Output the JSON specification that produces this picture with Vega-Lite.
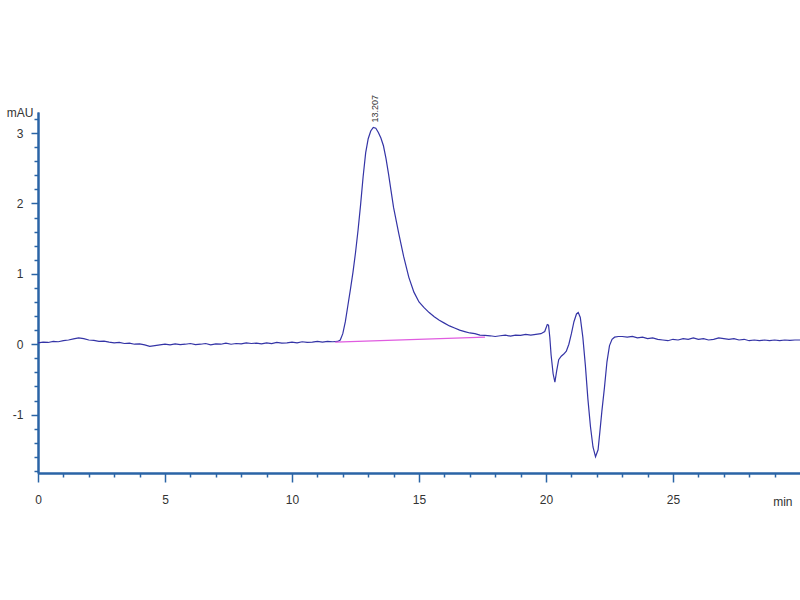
{
  "$schema": "https://vega.github.io/schema/vega-lite/v6.json",
  "width": 762,
  "height": 361,
  "autosize": {"type": "none"},
  "padding": {"left": 38, "top": 112, "right": 0, "bottom": 127},
  "background": "white",
  "config": {
    "view": {"stroke": null},
    "font": "Liberation Sans",
    "axis": {
      "grid": false,
      "domainColor": "#2a64a6",
      "domainWidth": 2,
      "tickColor": "#2a64a6",
      "tickWidth": 1.5,
      "labelColor": "#333333",
      "labelFont": "Liberation Sans",
      "labelFontSize": 12,
      "titleColor": "#333333",
      "titleFont": "Liberation Sans",
      "titleFontSize": 12,
      "titleFontWeight": "normal"
    }
  },
  "datasets": {
    "trace": [
      {"t": 0.0, "v": 0.02}, {"t": 0.2, "v": 0.03}, {"t": 0.4, "v": 0.025}, {"t": 0.6, "v": 0.04}, {"t": 0.8, "v": 0.035},
      {"t": 1.0, "v": 0.05}, {"t": 1.2, "v": 0.06}, {"t": 1.4, "v": 0.075}, {"t": 1.6, "v": 0.09}, {"t": 1.8, "v": 0.08},
      {"t": 2.0, "v": 0.06}, {"t": 2.2, "v": 0.055}, {"t": 2.4, "v": 0.04}, {"t": 2.6, "v": 0.045}, {"t": 2.8, "v": 0.03},
      {"t": 3.0, "v": 0.02}, {"t": 3.2, "v": 0.025}, {"t": 3.4, "v": 0.01}, {"t": 3.6, "v": 0.015}, {"t": 3.8, "v": 0.0},
      {"t": 4.0, "v": 0.005}, {"t": 4.2, "v": -0.01}, {"t": 4.4, "v": -0.03}, {"t": 4.6, "v": -0.02}, {"t": 4.8, "v": -0.01},
      {"t": 5.0, "v": 0.0}, {"t": 5.2, "v": -0.01}, {"t": 5.4, "v": 0.005}, {"t": 5.6, "v": -0.005}, {"t": 5.8, "v": 0.0},
      {"t": 6.0, "v": 0.01}, {"t": 6.2, "v": -0.005}, {"t": 6.4, "v": 0.0}, {"t": 6.6, "v": 0.01}, {"t": 6.8, "v": -0.01},
      {"t": 7.0, "v": 0.005}, {"t": 7.2, "v": 0.0}, {"t": 7.4, "v": 0.015}, {"t": 7.6, "v": 0.0}, {"t": 7.8, "v": 0.01},
      {"t": 8.0, "v": 0.005}, {"t": 8.2, "v": 0.02}, {"t": 8.4, "v": 0.01}, {"t": 8.6, "v": 0.015}, {"t": 8.8, "v": 0.005},
      {"t": 9.0, "v": 0.02}, {"t": 9.2, "v": 0.01}, {"t": 9.4, "v": 0.025}, {"t": 9.6, "v": 0.015}, {"t": 9.8, "v": 0.02},
      {"t": 10.0, "v": 0.03}, {"t": 10.2, "v": 0.02}, {"t": 10.4, "v": 0.035}, {"t": 10.6, "v": 0.025}, {"t": 10.8, "v": 0.03},
      {"t": 11.0, "v": 0.04}, {"t": 11.2, "v": 0.03}, {"t": 11.4, "v": 0.04}, {"t": 11.6, "v": 0.035}, {"t": 11.8, "v": 0.04},
      {"t": 11.9, "v": 0.06}, {"t": 12.0, "v": 0.15}, {"t": 12.1, "v": 0.32}, {"t": 12.2, "v": 0.55}, {"t": 12.3, "v": 0.78},
      {"t": 12.4, "v": 1.02}, {"t": 12.5, "v": 1.3}, {"t": 12.6, "v": 1.62}, {"t": 12.7, "v": 1.98}, {"t": 12.8, "v": 2.38},
      {"t": 12.9, "v": 2.72}, {"t": 13.0, "v": 2.92}, {"t": 13.1, "v": 3.03}, {"t": 13.2, "v": 3.08}, {"t": 13.3, "v": 3.07},
      {"t": 13.4, "v": 3.01}, {"t": 13.5, "v": 2.93}, {"t": 13.6, "v": 2.82}, {"t": 13.7, "v": 2.64}, {"t": 13.8, "v": 2.42},
      {"t": 13.9, "v": 2.18}, {"t": 14.0, "v": 1.94}, {"t": 14.2, "v": 1.58}, {"t": 14.4, "v": 1.24}, {"t": 14.6, "v": 0.95},
      {"t": 14.8, "v": 0.74}, {"t": 15.0, "v": 0.6}, {"t": 15.2, "v": 0.52}, {"t": 15.4, "v": 0.45}, {"t": 15.6, "v": 0.39},
      {"t": 15.8, "v": 0.34}, {"t": 16.0, "v": 0.3}, {"t": 16.2, "v": 0.26}, {"t": 16.4, "v": 0.23}, {"t": 16.6, "v": 0.2},
      {"t": 16.8, "v": 0.18}, {"t": 17.0, "v": 0.16}, {"t": 17.2, "v": 0.15}, {"t": 17.4, "v": 0.13}, {"t": 17.6, "v": 0.125},
      {"t": 17.8, "v": 0.12}, {"t": 18.0, "v": 0.11}, {"t": 18.2, "v": 0.12}, {"t": 18.4, "v": 0.13}, {"t": 18.6, "v": 0.115},
      {"t": 18.8, "v": 0.13}, {"t": 19.0, "v": 0.125}, {"t": 19.2, "v": 0.14}, {"t": 19.4, "v": 0.13}, {"t": 19.6, "v": 0.14},
      {"t": 19.8, "v": 0.15}, {"t": 19.95, "v": 0.18}, {"t": 20.05, "v": 0.28}, {"t": 20.1, "v": 0.27}, {"t": 20.15, "v": 0.1},
      {"t": 20.2, "v": -0.15}, {"t": 20.28, "v": -0.42}, {"t": 20.35, "v": -0.54}, {"t": 20.42, "v": -0.38}, {"t": 20.5, "v": -0.22},
      {"t": 20.6, "v": -0.17}, {"t": 20.7, "v": -0.14}, {"t": 20.8, "v": -0.1}, {"t": 20.9, "v": 0.0}, {"t": 21.0, "v": 0.15},
      {"t": 21.1, "v": 0.32}, {"t": 21.2, "v": 0.43}, {"t": 21.27, "v": 0.45}, {"t": 21.35, "v": 0.38}, {"t": 21.45, "v": 0.1},
      {"t": 21.55, "v": -0.3}, {"t": 21.65, "v": -0.78}, {"t": 21.75, "v": -1.17}, {"t": 21.85, "v": -1.46}, {"t": 21.95, "v": -1.6},
      {"t": 22.05, "v": -1.5}, {"t": 22.12, "v": -1.25}, {"t": 22.2, "v": -0.95}, {"t": 22.3, "v": -0.62}, {"t": 22.4, "v": -0.25},
      {"t": 22.5, "v": -0.02}, {"t": 22.6, "v": 0.07}, {"t": 22.7, "v": 0.1}, {"t": 22.85, "v": 0.11}, {"t": 23.0, "v": 0.11},
      {"t": 23.2, "v": 0.1}, {"t": 23.4, "v": 0.11}, {"t": 23.6, "v": 0.09}, {"t": 23.8, "v": 0.1}, {"t": 24.0, "v": 0.08},
      {"t": 24.2, "v": 0.09}, {"t": 24.4, "v": 0.07}, {"t": 24.6, "v": 0.06}, {"t": 24.8, "v": 0.05}, {"t": 25.0, "v": 0.07},
      {"t": 25.2, "v": 0.06}, {"t": 25.4, "v": 0.08}, {"t": 25.6, "v": 0.07}, {"t": 25.8, "v": 0.09}, {"t": 26.0, "v": 0.07},
      {"t": 26.2, "v": 0.08}, {"t": 26.4, "v": 0.06}, {"t": 26.6, "v": 0.07}, {"t": 26.8, "v": 0.09}, {"t": 27.0, "v": 0.08},
      {"t": 27.2, "v": 0.07}, {"t": 27.4, "v": 0.08}, {"t": 27.6, "v": 0.06}, {"t": 27.8, "v": 0.07}, {"t": 28.0, "v": 0.05},
      {"t": 28.2, "v": 0.06}, {"t": 28.4, "v": 0.05}, {"t": 28.6, "v": 0.06}, {"t": 28.8, "v": 0.05}, {"t": 29.0, "v": 0.06},
      {"t": 29.2, "v": 0.05}, {"t": 29.4, "v": 0.06}, {"t": 29.6, "v": 0.055}, {"t": 29.8, "v": 0.06}, {"t": 30.0, "v": 0.06}
    ],
    "baseline": [
      {"t": 11.7, "v": 0.03},
      {"t": 17.6, "v": 0.1}
    ],
    "peaks": [
      {"t": 13.27, "v": 3.08, "label": "13.207"}
    ]
  },
  "layer": [
    {
      "data": {"name": "trace"},
      "mark": {"type": "line", "color": "#3434a6", "strokeWidth": 1.2, "clip": true},
      "encoding": {
        "x": {"field": "t", "type": "quantitative",
              "scale": {"domain": [0, 30], "nice": false, "zero": false},
              "axis": {"orient": "bottom", "values": [0, 5, 10, 15, 20, 25], "tickSize": 9, "labelPadding": 12,
                       "labelFlush": false, "title": "min", "titleAngle": 0, "titleX": 754, "titleY": 28,
                       "titleAlign": "right", "titleBaseline": "middle"}},
        "y": {"field": "v", "type": "quantitative",
              "scale": {"domain": [-1.83, 3.3], "nice": false, "zero": false},
              "axis": {"orient": "left", "values": [-1, 0, 1, 2, 3], "tickSize": 7, "labelPadding": 8,
                       "labelExpr": "toString(datum.value)",
                       "labelFlush": false, "title": "mAU", "titleAngle": 0, "titleX": -5, "titleY": 0,
                       "titleAlign": "right", "titleBaseline": "middle"}}
      }
    },
    {
      "data": {"name": "trace"},
      "mark": {"type": "line", "opacity": 0},
      "encoding": {
        "x": {"field": "t", "type": "quantitative",
              "scale": {"domain": [0, 30], "nice": false, "zero": false},
              "axis": {"orient": "bottom", "values": [1,2,3,4,6,7,8,9,11,12,13,14,16,17,18,19,21,22,23,24,26,27,28,29],
                       "tickSize": 4, "labels": false, "title": null}},
        "y": {"field": "v", "type": "quantitative",
              "scale": {"domain": [-1.83, 3.3], "nice": false, "zero": false},
              "axis": {"orient": "left", "values": [-1.8,-1.6,-1.4,-1.2,-0.8,-0.6,-0.4,-0.2,0.2,0.4,0.6,0.8,1.2,1.4,1.6,1.8,2.2,2.4,2.6,2.8,3.2],
                       "tickSize": 4, "labels": false, "title": null}}
      }
    },
    {
      "data": {"name": "baseline"},
      "mark": {"type": "line", "color": "#e05ce0", "strokeWidth": 1.2},
      "encoding": {
        "x": {"field": "t", "type": "quantitative", "axis": null},
        "y": {"field": "v", "type": "quantitative", "axis": null}
      }
    },
    {
      "data": {"name": "peaks"},
      "mark": {"type": "text", "angle": -90, "align": "left", "baseline": "middle", "dx": 5, "fontSize": 9, "color": "#333333", "font": "Liberation Sans"},
      "encoding": {
        "x": {"field": "t", "type": "quantitative", "axis": null},
        "y": {"field": "v", "type": "quantitative", "axis": null},
        "text": {"field": "label"}
      }
    }
  ],
  "resolve": {"axis": {"x": "independent", "y": "independent"}}
}
